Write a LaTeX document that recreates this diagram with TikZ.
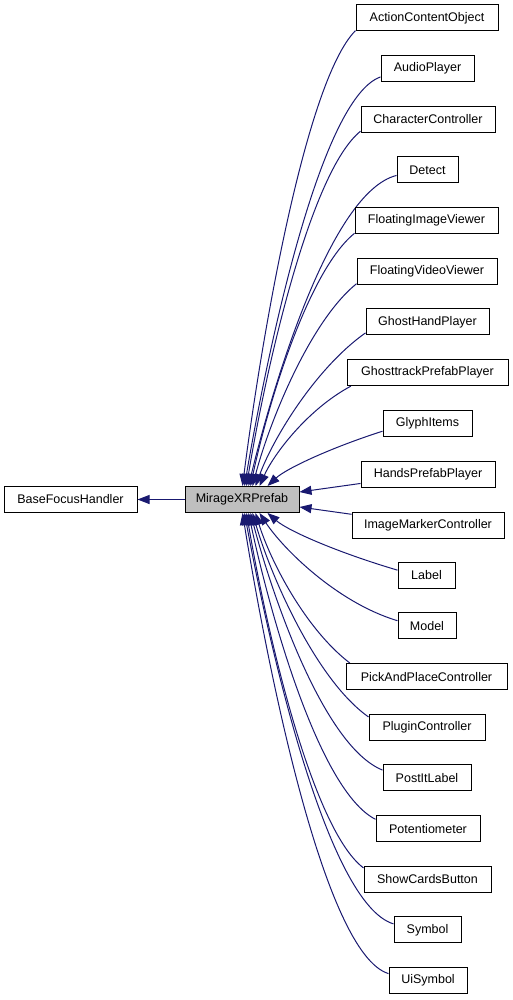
\documentclass[tikz,border=0pt]{standalone}
\usepackage{fontspec}
\setmainfont{Liberation Sans}
\usetikzlibrary{arrows.meta,calc}
\definecolor{edgecol}{HTML}{191970}
\definecolor{focusfill}{HTML}{BFBFBF}
\pgfdeclarelayer{edges}
\pgfsetlayers{edges,main}
\tikzset{
  box/.style={draw=black, line width=1pt, fill=white, minimum height=26pt, inner sep=0pt, font=\fontsize{12.5}{14}\selectfont},
  edge/.style={draw=edgecol, line width=1pt, -{Triangle[length=12pt,width=9pt]}},
}
\begin{document}
\begin{tikzpicture}[x=1pt,y=-1pt]
\useasboundingbox (0,0) rectangle (513,1000);
\node[box, minimum width=133pt] (base) at (70.5,499.5) {BaseFocusHandler};
\node[box, minimum width=114pt, fill=focusfill] (m) at (242,499.5) {MirageXRPrefab};
\draw[edge] (m.west) -- (base.east);
% children above the focus: edges end on its top side
\foreach \i/\t/\l/\r/\e/\s in {
 0/ActionContentObject/356/498/243/1.0,
 1/AudioPlayer/381/474/245/0.35,
 2/CharacterController/361/495/247/0.8,
 3/Detect/397/458/249/0.25,
 4/FloatingImageViewer/355/498/251/0.8,
 5/FloatingVideoViewer/357/497/253/0.8,
 6/GhostHandPlayer/366/489/256/0.7,
 7/GhosttrackPrefabPlayer/347/508/260/0.6,
 8/GlyphItems/383/472/268/0.4}{
  \pgfmathsetmacro\yc{18+50.66*\i}
  \pgfmathsetmacro\w{\r-\l}
  \pgfmathsetmacro\xc{(\l+\r)/2}
  \node[box, minimum width=\w pt] (n\i) at (\xc,\yc) {\t};
  \pgfmathsetmacro\sy{\yc+min(13,0.1763*\w/2)}
  \pgfmathsetmacro\dx{\l-\e}
  \pgfmathsetmacro\dy{486-\sy}
  \pgfmathsetmacro\cax{\l-0.45*\dx}
  \pgfmathsetmacro\cay{\sy+min(0.3*\dy,\s*0.45*\dx)}
  \pgfmathsetmacro\cbx{\e+0.16*\dx}
  \pgfmathsetmacro\cby{486-0.32*\dy}
  \pgfmathsetmacro\sh{\e-185}
  \coordinate (t\i) at ([xshift=\sh pt]m.north west);
  \begin{pgfonlayer}{edges}
  \draw[edge] (n\i.190) .. controls (\cax,\cay) and (\cbx,\cby) .. (t\i);
  \end{pgfonlayer}
}
\node[box, minimum width=134pt] (n9) at (428,474) {HandsPrefabPlayer};
\node[box, minimum width=152pt] (n10) at (428,525) {ImageMarkerController};
\coordinate (t9) at ([yshift=-6pt]m.north east);
\coordinate (t10) at ([yshift=6pt]m.south east);
\begin{pgfonlayer}{edges}
\draw[edge] (n9) -- (t9);
\draw[edge] (n10) -- (t10);
\end{pgfonlayer}
% children below the focus: edges end on its bottom side
\foreach \i/\t/\l/\r/\e/\s in {
 11/Label/398/455/268/0.4,
 12/Model/398/456/260/0.3,
 13/PickAndPlaceController/346/507/256/0.85,
 14/PluginController/369/485/253/0.7,
 15/PostItLabel/383/471/251/0.4,
 16/Potentiometer/376/480/249/0.5,
 17/ShowCardsButton/364/491/247/0.75,
 18/Symbol/394/461/245/0.3,
 19/UiSymbol/389/467/243/0.3}{
  \pgfmathsetmacro\yc{18+50.66*\i}
  \pgfmathsetmacro\w{\r-\l}
  \pgfmathsetmacro\xc{(\l+\r)/2}
  \node[box, minimum width=\w pt] (n\i) at (\xc,\yc) {\t};
  \pgfmathsetmacro\sy{\yc-min(13,0.1763*\w/2)}
  \pgfmathsetmacro\dx{\l-\e}
  \pgfmathsetmacro\dy{\sy-513}
  \pgfmathsetmacro\cax{\l-0.45*\dx}
  \pgfmathsetmacro\cay{\sy-min(0.3*\dy,\s*0.45*\dx)}
  \pgfmathsetmacro\cbx{\e+0.16*\dx}
  \pgfmathsetmacro\cby{513+0.32*\dy}
  \pgfmathsetmacro\sh{\e-185}
  \coordinate (t\i) at ([xshift=\sh pt]m.south west);
  \begin{pgfonlayer}{edges}
  \draw[edge] (n\i.170) .. controls (\cax,\cay) and (\cbx,\cby) .. (t\i);
  \end{pgfonlayer}
}
\end{tikzpicture}
\end{document}
